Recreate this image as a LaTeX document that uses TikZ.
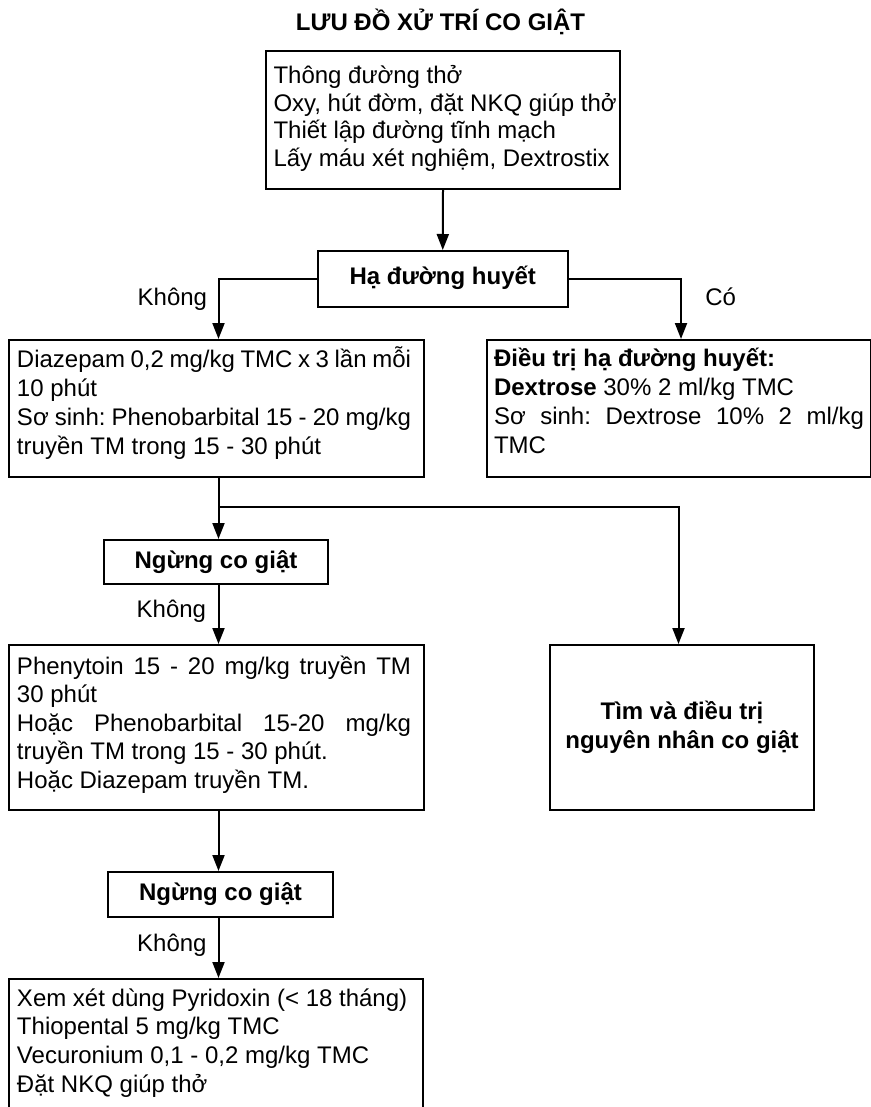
\documentclass[tikz,border=0pt]{standalone}
\usepackage{fontspec}
\setmainfont{Liberation Sans}
\usetikzlibrary{arrows.meta}

% one drawing unit = 0.5pt
\newlength\pxu
\setlength\pxu{0.5pt}

% boxed paragraph: width, height, left pad, right pad, first baseline, line spacing, body
\newcommand\flowpar[7]{%
  \parbox[c][#2\pxu][t]{#1\pxu}{%
    \fontsize{12pt}{#6}\selectfont
    \frenchspacing
    \lineskiplimit=-100pt
    \leftskip=#3\pxu \rightskip=#4\pxu \parindent=0pt
    \rule{0pt}{#5\pxu}#7}}

\tikzset{
  box/.style={draw, line width=1pt, rectangle, inner sep=0pt, anchor=north west},
  decision/.style={box, font=\bfseries, text height=9pt, text depth=3pt},
  link/.style={line width=1pt},
  arrow/.style={link, -{Triangle[length=8pt,width=6pt]}},
  note/.style={inner sep=0pt},
}

\begin{document}
\fontsize{12pt}{14.5pt}\selectfont
\frenchspacing
\begin{tikzpicture}[x=0.5pt, y=-0.5pt]
  \useasboundingbox (0,0) rectangle (871,1107);
  \fill[white] (0,0) rectangle (871,1107);
  \clip (0,0) rectangle (871,1107);

  % title
  \node[note, anchor=base, font=\bfseries] (title) at (440.5,31) {LƯU ĐỒ XỬ TRÍ CO GIẬT};

  % first aid
  \node[box] (start) at (265,50)
    {\flowpar{354}{138}{7.5}{0}{33}{13.75pt}{Thông đường thở\\Oxy, hút đờm, đặt NKQ giúp thở\\Thiết lập đường tĩnh mạch\\Lấy máu xét nghiệm, Dextrostix}};

  % hypoglycaemia check
  \node[decision, minimum width=250.5\pxu, minimum height=56\pxu] (ha) at (316.5,250) {Hạ đường huyết};

  % first line of treatment
  \node[box] (b1) at (8,339)
    {\flowpar{415}{137}{8}{13}{27}{14.5pt}{Diazepam 0,2 mg/kg TMC x 3 lần mỗi\linebreak 10 phút\\Sơ sinh: Phenobarbital 15 - 20 mg/kg\linebreak truyền TM trong 15 - 30 phút}};

  % hypoglycaemia treatment
  \node[box] (b2) at (486,339)
    {\flowpar{384}{137}{7}{7}{26}{14.5pt}{\textbf{Điều trị hạ đường huyết:}\\\textbf{Dextrose} 30\% 2 ml/kg TMC\\Sơ sinh: Dextrose 10\% 2 ml/kg\linebreak TMC}};

  % first check
  \node[decision, minimum width=224\pxu, minimum height=44\pxu] (n1) at (103,539) {Ngừng co giật};

  % second line of treatment
  \node[box] (b3) at (8,644)
    {\flowpar{415}{165}{8}{13}{29}{14.25pt}{Phenytoin 15 - 20 mg/kg truyền TM\linebreak 30 phút\\Hoặc Phenobarbital 15-20 mg/kg\linebreak truyền TM trong 15 - 30 phút.\\Hoặc Diazepam truyền TM.}};

  % cause
  \node[box, font=\bfseries, align=center, minimum width=264\pxu, minimum height=165\pxu] (b4) at (549,644)
    {Tìm và điều trị\\nguyên nhân co giật};

  % second check
  \node[decision, minimum width=225\pxu, minimum height=45\pxu] (n2) at (107,871) {Ngừng co giật};

  % refractory seizures
  \node[box] (b5) at (8,978)
    {\flowpar{414}{170}{8}{0}{27}{14.4pt}{Xem xét dùng Pyridoxin (< 18 tháng)\\Thiopental 5 mg/kg TMC\\Vecuronium 0,1 - 0,2 mg/kg TMC\\Đặt NKQ giúp thở}};

  % branch labels
  \node[note, anchor=base east] (no1) at (207.5,305) {Không};
  \node[note, anchor=base west] (yes1) at (705,305) {Có};
  \node[note, anchor=base east] (no2) at (206.5,617) {Không};
  \node[note, anchor=base east] (no3) at (207,951.5) {Không};

  % connector columns
  \coordinate (spine) at (218.5,0);
  \coordinate (yescol) at (681,0);
  \coordinate (causecol) at (678.5,0);
  \coordinate (fork) at (218.5,507);

  \draw[arrow] (start.south) -- (ha.north);
  \draw[arrow] (ha.west) -| (b1.north -| spine);
  \draw[arrow] (ha.east) -| (b2.north -| yescol);
  \draw[arrow] (b1.south -| spine) -- (n1.north -| spine);
  \draw[arrow] (fork) -| (b4.north -| causecol);
  \draw[arrow] (n1.south -| spine) -- (b3.north -| spine);
  \draw[arrow] (b3.south -| spine) -- (n2.north -| spine);
  \draw[arrow] (n2.south -| spine) -- (b5.north -| spine);
\end{tikzpicture}
\end{document}
